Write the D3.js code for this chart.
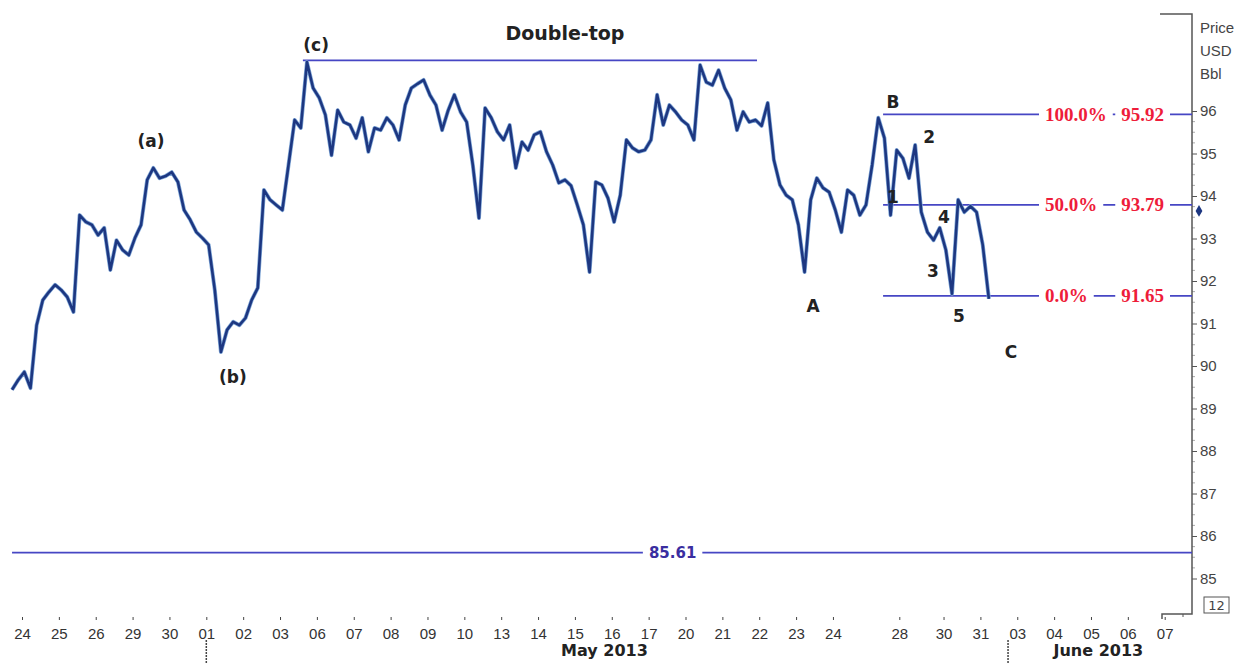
<!DOCTYPE html>
<html>
<head>
<meta charset="utf-8">
<script src="https://d3js.org/d3.v7.min.js"></script>
<style>
  body { margin: 0; background: #fff; }
  svg { display: block; }
</style>
</head>
<body>
<figure id="chart" style="margin:0"></figure>
<script>
// ---- data ----
// day slots on the time axis (one slot per trading day)
const dayLabels = ["24","25","26","29","30","01","02","03","06","07","08","09","10","13","14","15","16","17","20","21","22","23","24","28","30","31","03","04","05","06","07"]
const daySlots  = [0,1,2,3,4,5,6,7,8,9,10,11,12,13,14,15,16,17,18,19,20,21,22,23.8,25,26,27,28,29,30,31]

const months = [
  { label: "May 2013", start: 5, center: 15.8 },
  { label: "June 2013", start: 26.75, center: 29.2 }
]

const priceTicks = [85,86,87,88,89,90,91,92,93,94,95,96]

// price (USD/bbl) sampled every 1/6 of a trading day from priceStart
const priceStart = -0.27
const priceStep = 1 / 6
const prices = [
  89.44,89.67,89.86,89.48,90.96,91.55,91.74,91.91,91.79,91.62,
  91.27,93.55,93.39,93.32,93.08,93.25,92.26,92.96,92.73,92.61,
  93.01,93.32,94.38,94.66,94.42,94.47,94.56,94.33,93.67,93.44,
  93.15,93.01,92.85,91.79,90.33,90.85,91.04,90.96,91.13,91.55,
  91.84,94.14,93.91,93.79,93.67,94.73,95.79,95.60,97.15,96.54,
  96.31,95.91,94.96,96.02,95.74,95.67,95.36,95.84,95.04,95.60,
  95.55,95.84,95.67,95.32,96.14,96.54,96.64,96.73,96.38,96.14,
  95.55,96.02,96.38,95.98,95.74,94.73,93.48,96.07,95.84,95.51,
  95.32,95.67,94.66,95.27,95.08,95.44,95.51,95.04,94.73,94.31,
  94.38,94.24,93.79,93.32,92.21,94.33,94.26,93.95,93.39,94.02,
  95.32,95.13,95.04,95.08,95.32,96.38,95.67,96.14,95.98,95.79,
  95.67,95.32,97.08,96.68,96.61,96.96,96.54,96.26,95.55,95.98,
  95.74,95.79,95.65,96.19,94.85,94.26,94.02,93.91,93.32,92.21,
  93.91,94.42,94.19,94.09,93.67,93.15,94.14,94.02,93.55,93.79,
  94.73,95.84,95.36,93.55,95.08,94.89,94.42,95.20,93.62,93.15,
  92.96,93.25,92.73,91.70,93.91,93.62,93.76,93.62,92.85,91.58
]
const lastPrice = 93.65

// double-top resistance and long support
const doubleTop = { value: 97.19, from: 7.62, to: 19.94 }
const support = { value: 85.61, from: -0.27, labelAt: 17.65 }

// fibonacci retracement of the B-C leg
const fibFrom = 23.36
const fibPct = ["100.0%", "50.0%", "0.0%"]
const fibValues = [95.92, 93.79, 91.65]

// wave annotations: [text, slot, price]
const waveLabels = [
  ["(a)", 3.5, 95.15],
  ["(b)", 5.72, 89.6],
  ["(c)", 7.98, 97.41],
  ["A", 21.46, 91.27],
  ["B", 23.63, 96.07],
  ["C", 26.83, 90.19],
  ["1", 23.63, 93.84],
  ["2", 24.61, 95.25],
  ["3", 24.71, 92.09],
  ["4", 25.01, 93.36],
  ["5", 25.42, 91.04]
]
const title = { text: "Double-top", slot: 14.73, price: 97.67 }

// ---- chart ----
const width = 1234, height = 664
const axisX = 1192
const frameTop = 14, frameBottom = 614

const svg = d3.select("#chart").append("svg")
  .attr("width", width)
  .attr("height", height)
  .style("font-family", "'DejaVu Sans', Verdana, sans-serif")

const x = d3.scaleLinear().domain([0, 31]).range([22, 1164.7])
const y = d3.scaleLinear().domain([85, 96]).range([578.5, 111])

const lineBlue = "#4646c4"
const navy = "#1d3781"
const fibRed = "#ee1c3a"

// right price axis
const yAxis = d3.axisRight(y).tickValues(priceTicks).tickSize(5).tickPadding(3).tickFormat(d3.format("d"))
const gy = svg.append("g").attr("transform", `translate(${axisX},0)`).call(yAxis)
gy.select(".domain").remove()
gy.selectAll(".tick line").attr("stroke", "#555")
gy.selectAll(".tick text").attr("fill", "#444").style("font-size", "15px")

// minor ticks
svg.append("g").selectAll("line")
  .data(d3.range(85, 96.01, 0.25).filter(v => v % 1 !== 0))
  .join("line")
  .attr("x1", axisX).attr("x2", axisX + 3)
  .attr("y1", d => y(d)).attr("y2", d => y(d))
  .attr("stroke", "#aaa")

// frame of the price axis
svg.append("path")
  .attr("d", `M1160,${frameTop}H${axisX}V${frameBottom}H1162V${frameBottom + 5}`)
  .attr("fill", "none").attr("stroke", "#555").attr("stroke-width", 1.5)
svg.append("line").attr("x1", 1183).attr("x2", 1183).attr("y1", frameBottom).attr("y2", frameBottom + 3).attr("stroke", "#555")

svg.selectAll("text.unit").data(["Price", "USD", "Bbl"]).join("text")
  .attr("class", "unit")
  .attr("x", 1200).attr("y", (d, i) => 33 + i * 23)
  .attr("fill", "#444").style("font-size", "15px").style("font-family", "'Liberation Sans', Arial, sans-serif")
  .text(d => d)

// "12" box
svg.append("rect").attr("x", 1204).attr("y", 597).attr("width", 25).attr("height", 16)
  .attr("fill", "none").attr("stroke", "#555")
svg.append("text").attr("x", 1216.5).attr("y", 610).attr("text-anchor", "middle")
  .attr("fill", "#444").style("font-size", "13px").text("12")

// last price marker
svg.append("path")
  .attr("d", d3.symbol(d3.symbolDiamond, 40)())
  .attr("transform", `translate(${axisX + 7},${y(lastPrice)})`)
  .attr("fill", navy)

// bottom time axis
const xAxis = d3.axisBottom(x).tickValues(daySlots).tickSize(3).tickPadding(8)
  .tickFormat((d, i) => dayLabels[i])
const gx = svg.append("g").attr("transform", "translate(0,617)").call(xAxis)
gx.select(".domain").remove()
gx.selectAll(".tick line").attr("stroke", "#444")
gx.selectAll(".tick text").attr("fill", "#333").style("font-size", "15px")

svg.append("g").selectAll("line").data(months).join("line")
  .attr("x1", d => x(d.start)).attr("x2", d => x(d.start))
  .attr("y1", 640).attr("y2", 664)
  .attr("stroke", "#444").attr("stroke-width", 1.5).attr("stroke-dasharray", "2,1")
svg.append("g").selectAll("text").data(months).join("text")
  .attr("x", d => x(d.center)).attr("y", 656)
  .attr("text-anchor", "middle").attr("font-weight", "bold")
  .attr("fill", "#222").style("font-size", "16px")
  .text(d => d.label)

// horizontal levels
svg.append("line")
  .attr("x1", x(doubleTop.from)).attr("x2", x(doubleTop.to))
  .attr("y1", y(doubleTop.value)).attr("y2", y(doubleTop.value))
  .attr("stroke", lineBlue).attr("stroke-width", 1.8)

svg.append("line")
  .attr("x1", x(support.from)).attr("x2", axisX)
  .attr("y1", y(support.value)).attr("y2", y(support.value))
  .attr("stroke", lineBlue).attr("stroke-width", 1.8)

function labelWithBg(g, text, px, py, anchor, style) {
  const t = g.append("text").attr("x", px).attr("y", py).attr("text-anchor", anchor).text(text)
  Object.entries(style).forEach(([k, v]) => t.style(k, v))
  const b = t.node().getBBox()
  g.insert("rect", () => t.node())
    .attr("x", b.x - 6).attr("y", b.y).attr("width", b.width + 12).attr("height", b.height)
    .attr("fill", "#fff")
  return t
}

labelWithBg(svg.append("g"), d3.format(".2f")(support.value), x(support.labelAt), y(support.value) + 5.5, "middle", {
  "font-size": "15px", "font-weight": "bold", "fill": "#3a2ea0"
})

const fib = svg.append("g")
fibValues.forEach((v, i) => {
  fib.append("line")
    .attr("x1", x(fibFrom)).attr("x2", axisX)
    .attr("y1", y(v)).attr("y2", y(v))
    .attr("stroke", lineBlue).attr("stroke-width", 1.8)
  const style = { "font-size": "19px", "font-weight": "bold", "fill": fibRed, "font-family": "'Liberation Serif', 'Times New Roman', serif" }
  labelWithBg(fib, fibPct[i], 1045, y(v) + 6.5, "start", style)
  labelWithBg(fib, d3.format(".2f")(v), 1164, y(v) + 6.5, "end", style)
})

// price line
const series = prices.map((p, i) => [priceStart + i * priceStep, p])
const line = d3.line().x(d => x(d[0])).y(d => y(d[1]))
svg.append("path").datum(series)
  .attr("d", line)
  .attr("fill", "none").attr("stroke", "#7fa6d6").attr("stroke-width", 4)
  .attr("stroke-linejoin", "round")
svg.append("path").datum(series)
  .attr("d", line)
  .attr("fill", "none").attr("stroke", navy).attr("stroke-width", 2.6)
  .attr("stroke-linejoin", "round")

// annotations
svg.append("g").selectAll("text").data(waveLabels).join("text")
  .attr("x", d => x(d[1])).attr("y", d => y(d[2]))
  .attr("text-anchor", "middle").attr("font-weight", "bold")
  .attr("fill", "#222").style("font-size", "17px")
  .text(d => d[0])

svg.append("text")
  .attr("x", x(title.slot)).attr("y", y(title.price))
  .attr("text-anchor", "middle").attr("font-weight", "bold")
  .attr("fill", "#222").style("font-size", "19px")
  .text(title.text)
</script>
</body>
</html>
